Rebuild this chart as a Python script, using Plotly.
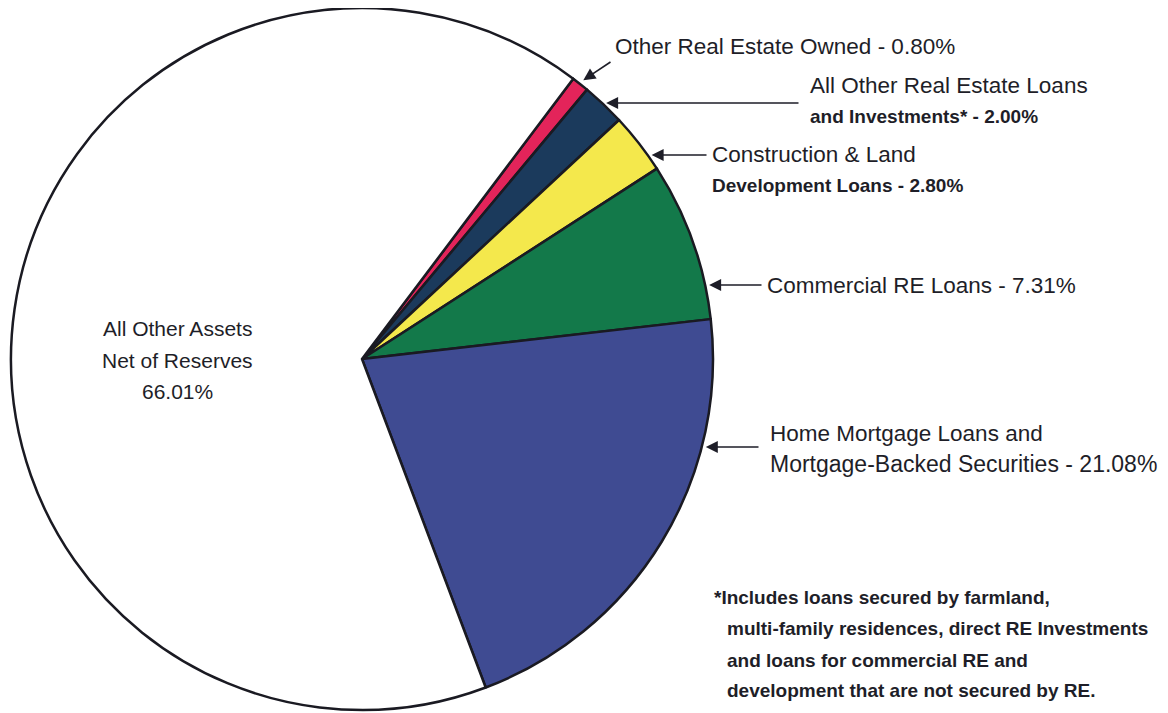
import math
import plotly.graph_objects as go

# ---- data ----
categories = [
    "Other Real Estate Owned",
    "All Other Real Estate Loans and Investments*",
    "Construction & Land Development Loans",
    "Commercial RE Loans",
    "Home Mortgage Loans and Mortgage-Backed Securities",
    "All Other Assets Net of Reserves",
]
values = [0.80, 2.00, 2.80, 7.31, 21.08, 66.01]
colors = ["#e3245a", "#1b3a5c", "#f4e84c", "#13794a", "#3f4b92", "#ffffff"]

label_lines = [
    ["Other Real Estate Owned - 0.80%"],
    ["All Other Real Estate Loans", "and Investments* - 2.00%"],
    ["Construction & Land", "Development Loans - 2.80%"],
    ["Commercial RE Loans - 7.31%"],
    ["Home Mortgage Loans and", "Mortgage-Backed Securities - 21.08%"],
]
center_label = ["All Other Assets", "Net of Reserves", "66.01%"]
footnote_lines = [
    "*Includes loans secured by farmland,",
    "multi-family residences, direct RE Investments",
    "and loans for commercial RE and",
    "development that are not secured by RE.",
]

# ---- layout constants (pixels, in page coordinates) ----
OFF = 8                      # default page body margin
W, H = 1168 - OFF, 713 - OFF  # figure size
CX, CY, R = 362, 359, 351
ROT = 37
TXT = "#1e1e28"
FONT = "Liberation Sans, Arial"


def px(x):
    return (x - OFF) / W


def py(y):
    return 1 - (y - OFF) / H


fig = go.Figure()
fig.add_trace(go.Pie(
    labels=categories,
    values=values,
    sort=False,
    direction="clockwise",
    rotation=ROT,
    textinfo="none",
    hoverinfo="label+percent",
    marker=dict(colors=colors, line=dict(color="#1a1a22", width=2.5)),
    domain=dict(x=[px(CX - R), px(CX + R)], y=[max(py(CY + R), 0), py(CY - R)]),
    showlegend=False,
))

ann = []
total = sum(values)


def edge_x(y):
    return CX + math.sqrt(max(R * R - (y - CY) ** 2, 0))


# arrow 1: diagonal toward middle of first slice
mid = ROT + values[0] / 2 / total * 360
tipx = CX + (R + 5) * math.sin(math.radians(mid))
tipy = CY - (R + 5) * math.cos(math.radians(mid))
tail = (612, 61)
ann.append(dict(x=px(tipx), y=py(tipy), xref="paper", yref="paper", text="",
                showarrow=True, arrowhead=2, arrowsize=1.5, arrowwidth=1.6,
                arrowcolor=TXT, ax=tail[0] - tipx, ay=tail[1] - tipy))

# horizontal arrows: (line y, tail x)
hlines = [(103, 800), (155, 708), (285, 763), (447, 760)]
for yline, tx in hlines:
    tipx = edge_x(yline) + 4
    ann.append(dict(x=px(tipx), y=py(yline), xref="paper", yref="paper", text="",
                    showarrow=True, arrowhead=2, arrowsize=1.5, arrowwidth=1.6,
                    arrowcolor=TXT, ax=tx - tipx, ay=0))

# label texts: (x, [y per line], [size per line], [bold per line])
label_pos = [
    (613, [47], [22.5], [False]),
    (808, [85, 116], [22.5, 19], [False, True]),
    (710, [155, 185], [22.5, 19], [False, True]),
    (765, [285], [22.5], [False]),
    (768, [433, 464], [22.5, 23], [False, False]),
]
for lines, (x, ys, sizes, bolds) in zip(label_lines, label_pos):
    for t, y, s, b in zip(lines, ys, sizes, bolds):
        ann.append(dict(x=px(x), y=py(y), xref="paper", yref="paper",
                        text=f"<b>{t}</b>" if b else t, showarrow=False,
                        xanchor="left", yanchor="middle",
                        font=dict(family=FONT, size=s, color=TXT)))

for t, y in zip(center_label, [328, 360, 391]):
    ann.append(dict(x=px(178), y=py(y), xref="paper", yref="paper", text=t,
                    showarrow=False, xanchor="center", yanchor="middle",
                    font=dict(family=FONT, size=21, color=TXT)))

for i, (t, y) in enumerate(zip(footnote_lines, [597, 628, 660, 690])):
    ann.append(dict(x=px(712 if i == 0 else 725), y=py(y), xref="paper", yref="paper",
                    text=f"<b>{t}</b>", showarrow=False, xanchor="left", yanchor="middle",
                    font=dict(family=FONT, size=19, color=TXT)))

fig.update_layout(
    width=W, height=H,
    margin=dict(l=0, r=0, t=0, b=0),
    paper_bgcolor="white", plot_bgcolor="white",
    annotations=ann,
)
fig.write_html("out.html")
